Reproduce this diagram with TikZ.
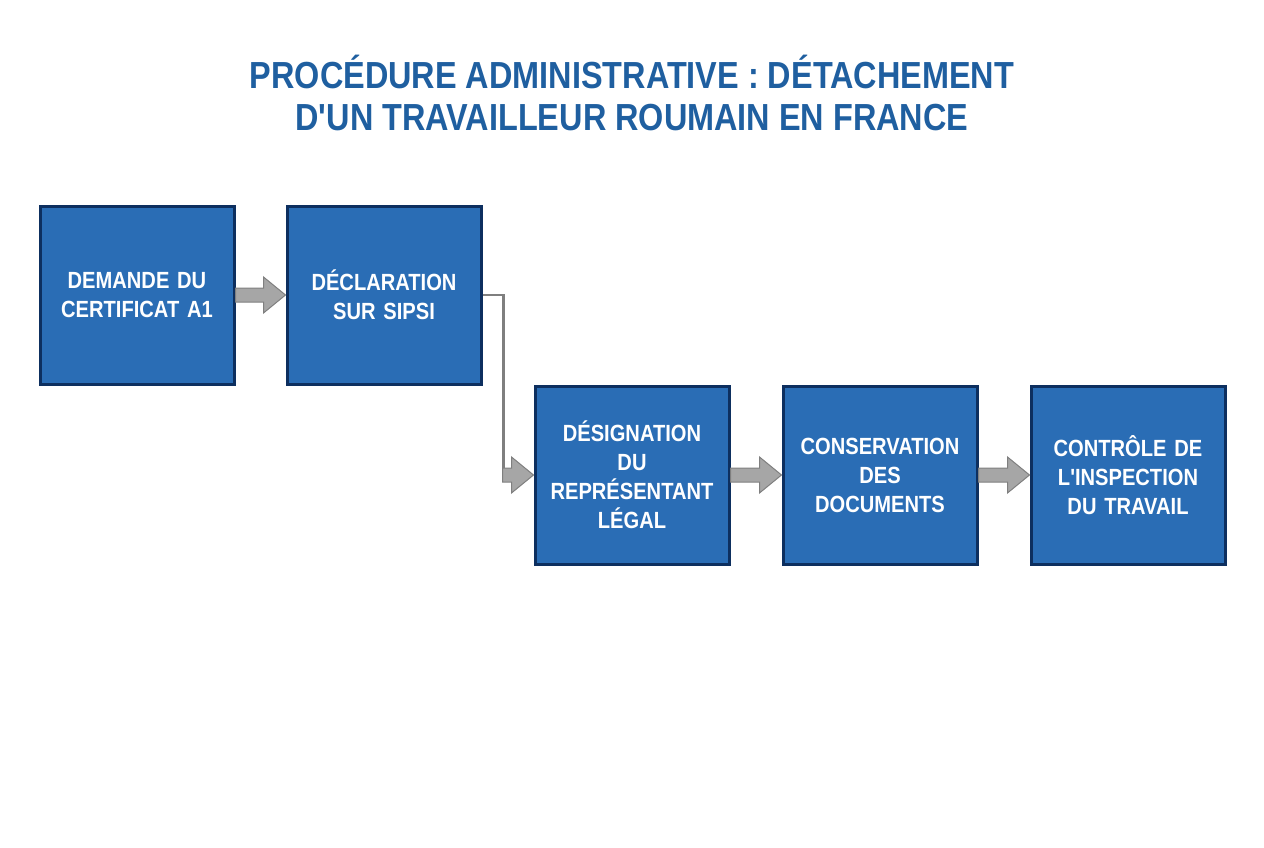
\documentclass[tikz,border=0pt]{standalone}
\usepackage{fontspec}
\newfontfamily\myfont{Liberation Sans}[FakeStretch=0.86]
\usetikzlibrary{calc}
\definecolor{boxfill}{HTML}{2A6DB5}
\definecolor{boxline}{HTML}{0D2F5F}
\definecolor{titlecol}{HTML}{1F5FA0}
\definecolor{arrfill}{HTML}{A6A6A6}
\definecolor{arrline}{HTML}{7F7F7F}
\tikzset{
 stepbox/.style={draw=boxline,line width=3pt,fill=boxfill,minimum width=194pt,minimum height=178pt,inner sep=0pt,
   text=white,font=\myfont\bfseries\fontsize{23.4}{29}\selectfont,align=center,text width=192pt},
 barrowstyle/.style={fill=arrfill,draw=arrline,line width=1pt,line join=miter},
}
\newcommand\barrow[2]{\path[barrowstyle] ($(#1.east)+(0,-7)$) -- ($(#2.west)+(-22,-7)$) -- ($(#2.west)+(-22,-18)$) -- (#2.west) -- ($(#2.west)+(-22,18)$) -- ($(#2.west)+(-22,7)$) -- ($(#1.east)+(0,7)$) -- cycle;}
\begin{document}
\begin{tikzpicture}[x=1pt,y=-1pt]
\useasboundingbox (0,0) rectangle (1264,848);
\node[text=titlecol,font=\myfont\bfseries\fontsize{37.7}{42}\selectfont,align=center] (title) at (632,93) {PROCÉDURE ADMINISTRATIVE : DÉTACHEMENT\\D'UN TRAVAILLEUR ROUMAIN EN FRANCE};
\node[stepbox] (b1) at (137,295) {DEMANDE DU\\CERTIFICAT A1};
\node[stepbox] (b2) at (384,295) {DÉCLARATION\\SUR SIPSI};
\node[stepbox] (b3) at (632,475) {DÉSIGNATION\\DU\\REPRÉSENTANT\\LÉGAL};
\node[stepbox] (b4) at (880,475) {CONSERVATION\\DES\\DOCUMENTS};
\node[stepbox] (b5) at (1128,475) {CONTRÔLE DE\\L'INSPECTION\\DU TRAVAIL};
\barrow{b1}{b2}
\barrow{b3}{b4}
\barrow{b4}{b5}
\coordinate (e) at ($(b3.west)+(-31,0)$);
\draw[arrline,line width=2.5pt] (b2.east) -- ++(21,0) |- ($(e)+(0,-7)$);
\path[barrowstyle] ($(e)+(0,-7)$) -- ($(b3.west)+(-22,-7)$) -- ($(b3.west)+(-22,-18)$) -- (b3.west) -- ($(b3.west)+(-22,18)$) -- ($(b3.west)+(-22,7)$) -- ($(e)+(0,7)$) -- cycle;
\end{tikzpicture}
\end{document}
